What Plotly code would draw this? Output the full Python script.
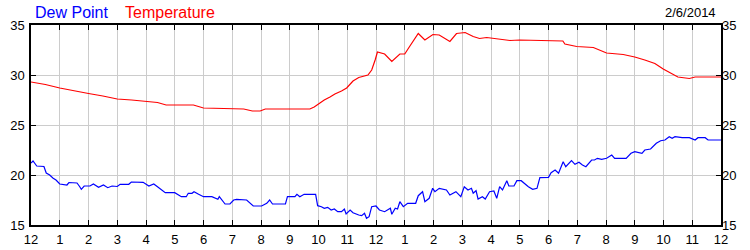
import plotly.graph_objects as go

# ---- data (hours after midnight, degrees) ----
temp_hours = [0, 0.5, 1, 1.5, 2, 2.5, 3, 3.5, 4, 4.4, 4.7, 5.2, 5.65, 6.0, 6.5, 7.0, 7.4, 7.7, 7.97, 8.15,
              8.6, 9.2, 9.7, 9.85, 10.0, 10.2, 10.4, 10.57, 10.8, 10.98, 11.2, 11.4, 11.72, 11.85, 11.97,
              12.05, 12.3, 12.55, 12.83, 13.0, 13.18, 13.47, 13.7, 13.98, 14.2, 14.57, 14.8, 15.1, 15.38,
              15.6, 15.85, 16.2, 16.66, 17.0, 17.5, 18.0, 18.5, 18.57, 18.98, 19.56, 20.02, 20.6, 21.0,
              21.35, 21.7, 21.99, 22.28, 22.5, 22.9, 23.1, 24]
temp_values = [29.3, 29.05, 28.7, 28.4, 28.15, 27.9, 27.6, 27.5, 27.35, 27.25, 27.0, 27.0, 27.0, 26.7, 26.65,
               26.6, 26.6, 26.4, 26.4, 26.6, 26.6, 26.6, 26.6, 26.8, 27.1, 27.5, 27.8, 28.1, 28.4, 28.7,
               29.4, 29.75, 30.0, 30.5, 31.5, 32.3, 32.1, 31.35, 32.1, 32.1, 32.9, 34.15, 33.5, 34.05, 34.0,
               33.35, 34.15, 34.25, 33.85, 33.65, 33.75, 33.6, 33.45, 33.5, 33.45, 33.4, 33.4, 33.1, 32.85,
               32.75, 32.2, 32.05, 31.8, 31.5, 31.15, 30.6, 30.1, 29.8, 29.65, 29.8, 29.8]

dew_hours = [0, 0.07, 0.2, 0.45, 0.53, 0.65, 0.77, 0.87, 1.0, 1.25, 1.32, 1.6, 1.69, 1.75, 1.85, 2.05, 2.17,
             2.35, 2.52, 2.67, 2.82, 3.0, 3.1, 3.4, 3.49, 3.9, 4.1, 4.27, 4.4, 4.53, 4.67, 5.0, 5.23, 5.4,
             5.47, 5.6, 5.67, 5.83, 6.0, 6.29, 6.5, 6.55, 6.75, 6.92, 7.05, 7.15, 7.5, 7.73, 8.02, 8.2, 8.3,
             8.4, 8.85, 8.92, 9.18, 9.25, 9.35, 9.5, 9.9, 9.97, 10.1, 10.2, 10.32, 10.44, 10.55, 10.67, 10.8,
             10.9, 10.96, 11.1, 11.2, 11.4, 11.5, 11.6, 11.67, 11.76, 11.85, 12.0, 12.12, 12.3, 12.5, 12.55,
             12.67, 12.75, 12.83, 12.95, 13.1, 13.38, 13.47, 13.62, 13.7, 13.85, 13.97, 14.05, 14.2, 14.45,
             14.57, 14.78, 14.95, 15.07, 15.2, 15.32, 15.38, 15.48, 15.55, 15.7, 15.8, 15.95, 16.1, 16.2,
             16.3, 16.4, 16.55, 16.62, 16.8, 16.9, 17.05, 17.3, 17.45, 17.6, 17.7, 18.0, 18.09, 18.23,
             18.35, 18.51, 18.6, 18.8, 18.92, 19.06, 19.18, 19.3, 19.4, 19.5, 19.6, 19.7, 19.85, 20.02,
             20.2, 20.3, 20.7, 20.87, 21.0, 21.25, 21.35, 21.55, 21.75, 21.9, 22.05, 22.2, 22.3, 22.4,
             22.65, 22.9, 23.1, 23.2, 23.45, 23.55, 24]
dew_values = [21.2, 21.4, 20.9, 20.85, 20.2, 20.0, 19.67, 19.5, 19.1, 19.0, 19.25, 19.2, 18.85, 18.57, 18.9,
              18.9, 19.1, 18.77, 19.0, 18.73, 18.9, 18.85, 19.07, 19.07, 19.3, 19.27, 18.9, 19.1, 18.83,
              18.5, 18.23, 18.23, 17.83, 17.83, 18.17, 18.17, 18.33, 18.07, 17.83, 17.83, 17.57, 17.83,
              17.1, 17.1, 17.5, 17.57, 17.5, 16.9, 16.9, 17.17, 17.5, 17.1, 17.1, 17.83, 17.83, 18.07,
              17.83, 18.07, 18.07, 16.93, 16.83, 16.67, 16.77, 16.5, 16.6, 16.33, 16.33, 16.6, 16.1, 16.5,
              16.23, 16.0, 15.93, 16.17, 15.67, 15.83, 16.83, 16.9, 16.5, 16.33, 16.67, 16.07, 16.67, 16.6,
              17.33, 16.83, 17.17, 17.17, 17.93, 18.33, 17.33, 17.67, 18.67, 18.33, 18.67, 18.5, 18.0,
              18.33, 17.83, 18.83, 18.5, 18.67, 18.17, 18.43, 17.6, 17.83, 17.6, 18.33, 18.4, 17.67, 18.83,
              18.5, 19.43, 18.9, 18.9, 19.43, 19.43, 18.83, 18.57, 18.67, 19.73, 19.77, 20.23, 20.5, 20.17,
              21.33, 20.83, 21.43, 21.07, 21.27, 21.0, 20.83, 21.17, 21.5, 21.5, 21.67, 21.57, 21.67, 22.0,
              21.67, 21.67, 22.17, 22.33, 22.17, 22.5, 22.6, 23.17, 23.43, 23.5, 23.83, 23.67, 23.83, 23.73,
              23.73, 23.5, 23.73, 23.73, 23.5, 23.5]

hour_ticks = list(range(0, 25))
hour_labels = ["12", "1", "2", "3", "4", "5", "6", "7", "8", "9", "10", "11",
               "12", "1", "2", "3", "4", "5", "6", "7", "8", "9", "10", "11", "12"]
y_ticks = [15, 20, 25, 30, 35]
date_label = "2/6/2014"

FONT = "Liberation Sans, Arial, sans-serif"

W, H = 750, 250
L, R, T, B = 31, 29, 25, 25

fig = go.Figure()
fig.add_trace(go.Scatter(x=dew_hours, y=dew_values, mode="lines",
                         line=dict(color="#0000ff", width=1.2), showlegend=False))
fig.add_trace(go.Scatter(x=temp_hours, y=temp_values, mode="lines",
                         line=dict(color="#ff0000", width=1.2), showlegend=False))
# invisible trace to activate the right-hand axis
fig.add_trace(go.Scatter(x=[0], y=[15], yaxis="y2", mode="lines",
                         line=dict(width=0), showlegend=False, hoverinfo="skip"))

fig.update_layout(
    width=W, height=H,
    margin=dict(l=L, r=R, t=T, b=B, autoexpand=False),
    paper_bgcolor="white", plot_bgcolor="white",
    font=dict(family=FONT, size=13, color="black"),
    xaxis=dict(range=[0, 24], tickvals=hour_ticks, ticktext=hour_labels,
               showgrid=True, gridcolor="#cccccc", gridwidth=1,
               ticks="inside", ticklen=5, tickcolor="black", tickwidth=1,
               showline=True, linecolor="black", linewidth=1.5, mirror="ticks",
               zeroline=False, automargin=False, tickfont=dict(size=13),
               ticklabelstandoff=2),
    yaxis=dict(range=[15, 35], tickvals=y_ticks,
               showgrid=True, gridcolor="#cccccc", gridwidth=1,
               ticks="inside", ticklen=5, tickcolor="black", tickwidth=1,
               showline=True, linecolor="black", linewidth=1.5, mirror="ticks",
               zeroline=False, automargin=False, tickfont=dict(size=13),
               ticklabelstandoff=2),
    yaxis2=dict(range=[15, 35], tickvals=y_ticks, overlaying="y", side="right",
                showgrid=False, ticks="inside", ticklen=5, tickcolor="black",
                showline=False, zeroline=False, automargin=False, tickfont=dict(size=13)),
)

pw, ph = W - L - R, H - T - B
def px2paper(xp, yp):
    return (xp - L) / pw, (H - B - yp) / ph
x0, y0 = px2paper(33, 12)
x1, _ = px2paper(123, 12)
x2, _ = px2paper(718, 12)
fig.update_layout(annotations=[
    dict(text="Dew Point", x=x0, y=y0, xref="paper", yref="paper", showarrow=False,
         xanchor="left", yanchor="middle", font=dict(size=16, color="#0000ff", family=FONT)),
    dict(text="Temperature", x=x1, y=y0, xref="paper", yref="paper", showarrow=False,
         xanchor="left", yanchor="middle", font=dict(size=16, color="#ff0000", family=FONT)),
    dict(text=date_label, x=x2, y=y0, xref="paper", yref="paper", showarrow=False,
         xanchor="right", yanchor="middle", font=dict(size=13, color="black", family=FONT)),
])

fig.write_html("out.html")
